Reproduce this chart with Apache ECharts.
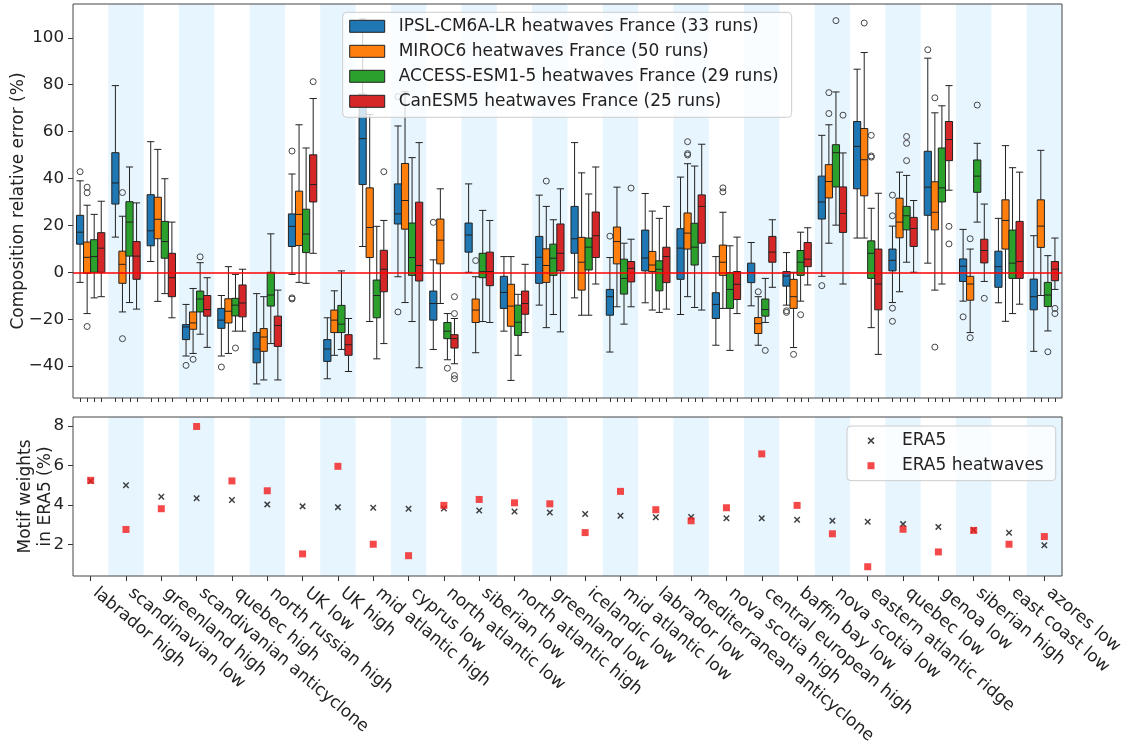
<!DOCTYPE html>
<html><head><meta charset="utf-8">
<script src="https://cdn.jsdelivr.net/npm/echarts@6/dist/echarts.min.js"></script>
<style>html,body{margin:0;padding:0;background:#fff}#c{width:1134px;height:742px}</style>
</head><body><div id="c"></div>
<script>
const categories = ['labrador high','scandinavian low','greenland high','scandivanian anticyclone','quebec high','north russian high','UK low','UK high','mid atlantic high','cyprus low','north atlantic low','siberian low','north atlantic high','greenland low','icelandic low','mid atlantic low','labrador low','mediterranean anticyclone','nova scotia high','central european high','baffin bay low','nova scotia low','eastern atlantic ridge','quebec low','genoa low','siberian high','east coast low','azores low'];
const seriesNames = ['IPSL-CM6A-LR heatwaves France (33 runs)','MIROC6 heatwaves France (50 runs)','ACCESS-ESM1-5 heatwaves France (29 runs)','CanESM5 heatwaves France (25 runs)'];
// [min, Q1, median, Q3, max]
const ipsl = [[-4.3,12,17.1,24.3,39],[15,29.1,38.1,51,79.6],[4.6,11.3,17.7,33.1,55.7],[-35.7,-28.7,-23.3,-22.3,-13.7],[-35.7,-23.9,-20.4,-15.4,-9.9],[-47.6,-38.6,-32.7,-25.7,-9.1],[-0.9,11,19.6,24.9,41.9],[-45.4,-38,-32.7,-28.7,-19.4],[11,37.4,57,76,108],[-1.9,20.6,24.9,37.7,62.4],[-32.9,-20.4,-13.3,-8,5.3],[0,8.6,15.9,21,37.7],[-25.1,-15.4,-8.6,-1.7,6.7],[-14,-4.7,6.4,15.3,32.9],[-10.9,8.1,14.3,28.1,55.3],[-34,-18.3,-10.4,-7.3,6.3],[-13,0.6,6.1,18,33.6],[-18,-3,10.3,18.6,40.6],[-31.1,-19.7,-13.7,-8.7,6.7],[-14.3,-4.4,-0.1,3.9,12.7],[-14,-5.9,-1.6,0.3,8.4],[-1.7,22.7,30,41,58.4],[14.6,35.6,53.7,64.3,86.6],[-12.9,0.6,5.1,9.9,19.7],[3.9,24.3,36.3,51.6,91.3],[-12.3,-3.9,2.6,5.7,18.3],[-13,-6.4,2.4,9,23],[-33.7,-16,-10.4,-2.9,15.6]];
const miroc = [[-17.6,-0.4,6.4,12.9,28.6],[-16.9,-4.7,3.4,9,23.9],[-12.4,14.3,22.6,32,52.4],[-34.6,-24.3,-21.6,-16.9,-6.9],[-34.6,-21.6,-16.6,-11.3,2.4],[-45.9,-33.7,-27.6,-24,-10.4],[-4.3,11.4,24.7,34.6,62.9],[-35.4,-25.7,-20.4,-16.1,-7.9],[-21,6.3,19.1,36,67.3],[-12.9,18.4,30.6,46.4,77],[-13.3,3.6,13.7,22.7,35.6],[-34.3,-21.4,-16.1,-11.4,-1.9],[-46.1,-23,-14.4,-5.1,6.7],[-23.6,-4.3,2.9,10,28.1],[-18.3,-7.6,4.3,14.9,42.4],[-14.7,3.6,13.1,19.3,36.3],[-16.1,0.3,3.1,8.9,26.1],[-10.4,9.9,16.7,25.3,46.3],[-15.4,-1.3,4.3,11.6,25.6],[-31.1,-26.1,-21.9,-19.3,-10.4],[-32.1,-15.4,-10.4,-3,0],[12.4,31.7,38.7,45.9,62.9],[14.6,32.6,48,61.3,93.7],[-8.3,14.7,21.4,31.6,42.7],[-7.6,18.1,25.6,38.6,68],[-25.7,-11.9,-5,-1.7,9.9],[-20.9,9.9,22.1,30.9,54],[-9.9,10.6,19.7,30.9,52]];
const access = [[-10.9,0,6.7,13.9,24.7],[-12.9,6.9,21.4,30.1,44.9],[-9.1,6,13.1,21.7,39.9],[-26.4,-16.9,-11.4,-8,4.1],[-25.1,-18.6,-14,-11.1,-0.9],[-30.4,-14.4,-9.7,0,16.4],[-4.7,8.4,16.3,26.9,53],[-32.9,-25.7,-22.1,-14.1,0.6],[-36.9,-19.4,-9.9,-3.3,19.6],[-21,-1.3,6.3,21,48.9],[-37.3,-28.3,-25.1,-21.4,-17.6],[-21,-2.3,0.3,8.1,26.4],[-35.4,-26.9,-21.3,-14,-9.4],[-18,-1.3,6,12,22.4],[-18.3,1,10.7,14.6,33.4],[-22.1,-9.3,-2.6,5.6,12.4],[-17.1,-7.9,1.3,4.9,23],[-15,3.1,10.7,20.9,45.3],[-33.3,-15.4,-7.3,-0.1,11.3],[-21.4,-18.7,-15.9,-11.4,-2.6],[-12.3,-1.3,4.3,9.3,17.1],[20.1,36.4,51,54.4,76.9],[-23.6,-2.6,8.1,13.4,27.3],[4.3,18.1,24.1,28.1,41.3],[-5,30,36,53,71],[21.4,34.1,41,47.9,55],[-17.6,-2.6,3.9,18,44.6],[-25,-14.6,-9.7,-4.3,7.1]];
const canesm = [[-10.4,0,10.3,16.9,30.3],[-15.7,-3,6.9,13.1,29.6],[-19.4,-10.4,-2.3,8.1,21.4],[-32,-18.7,-15.9,-9.9,-2.3],[-25.1,-19,-13.1,-5.4,1.3],[-45.9,-31.6,-22.7,-18.7,-7.6],[8.1,30,37.4,50.1,74.1],[-42.3,-35.4,-30.9,-26.6,-19.7],[-30.4,-8.3,1.3,9.4,22.1],[-40.7,-3.7,2.9,29.9,55.3],[-39,-32.3,-28.3,-26.6,-19.7],[-21.4,-5.7,0.3,8.6,22.1],[-25.7,-17.9,-13.3,-8,3.4],[-25.4,0.6,8.1,20.6,35.6],[-5,6.3,15.6,25.7,44.9],[-14.7,-4.1,1.7,4.6,14.1],[-15.7,-4.4,6.7,10.7,28.1],[-16.1,12.4,28.1,33,54.6],[-17.6,-11.6,-5.1,0.3,15],[-6.4,4.3,8.6,15.3,22.4],[-5.4,2.4,5.6,12.7,19],[-5,17,25.1,36.4,50.9],[-35,-16,-5,9.9,33.7],[0,11,18.7,23.4,30.6],[35,47.6,56.6,64.3,79.6],[-3.9,4,9.3,14.1,29.1],[-13.6,-2.6,4.6,21.7,42.7],[-7.3,-3.6,1.3,4.6,14.6]];
// outliers [category index, value]
const ipslOut = [[0,42.9],[3,-39.7],[4,-40.4],[6,51.7],[6,-10.9],[6,-11.4],[9,74.9],[9,-16.9],[10,21.3],[15,15.4],[20,-16.4],[20,-17.1],[21,-5.7],[23,32.9],[23,24.1],[23,-15.3],[23,-20.9],[24,94.9],[25,-19]];
const mirocOut = [[0,36.3],[0,33.9],[0,-23.1],[1,34],[1,-28.3],[3,-37.1],[11,5],[13,38.9],[17,55.7],[17,50.6],[17,50],[18,36],[18,34.3],[19,-8.3],[20,-35],[21,76.6],[21,67.7],[22,106.3],[24,74.4],[24,-31.9],[25,14.3],[25,-27.9]];
const accessOut = [[3,6.6],[4,-32.3],[10,-40.9],[19,-33.3],[20,-18.1],[21,107.3],[22,58.4],[22,49.1],[22,49.6],[23,57.9],[23,55],[23,47.6],[25,71.3],[27,-33.9]];
const canesmOut = [[6,81.3],[8,42.9],[10,-10.4],[10,-17.6],[10,-44],[10,-45.4],[15,35.9],[21,67],[24,19.6],[24,12.1],[25,-11.1],[27,-15.4],[27,-17.6]];
const era5 = [5.2,4.99,4.41,4.33,4.24,4.02,3.92,3.88,3.85,3.80,3.81,3.71,3.66,3.61,3.53,3.44,3.37,3.38,3.32,3.32,3.24,3.19,3.14,3.02,2.88,2.72,2.58,1.95];
const era5Heat = [5.24,2.75,3.80,7.97,5.21,4.71,1.51,5.95,2.0,1.42,3.97,4.27,4.10,4.05,2.59,4.68,3.75,3.19,3.85,6.58,3.97,2.53,0.86,2.76,1.61,2.70,2.0,2.39];
const yTicksTop = [-40,-20,0,20,40,60,80,100];
const yTicksBottom = [2,4,6,8];

const colors = ['#1f77b4','#ff7f0e','#2ca02c','#d62728'];
const FONT = 'DejaVu Sans';
const bandFlags = categories.map((c,i)=> i%2===1 ? 1 : '-');
function boxOffset(bw,k){const av=bw*0.8-2;const gap=av/4*0.3;const w=(av-gap*3)/4;return w/2-av/2+k*(gap+w);}
const minusFmt = v => String(v).replace('-', '\u2212');

const boxData = [ipsl, miroc, access, canesm];
const outData = [ipslOut, mirocOut, accessOut, canesmOut];
const series = [];
series.push({type:'bar',name:'bandsTop',xAxisIndex:0,yAxisIndex:1,data:bandFlags,barWidth:'100%',itemStyle:{color:'#e7f5fe'},silent:true,z:1});
series.push({type:'bar',name:'bandsBottom',xAxisIndex:1,yAxisIndex:3,data:bandFlags,barWidth:'100%',itemStyle:{color:'#e7f5fe'},silent:true,z:1});
boxData.forEach((d,k)=>{
  const s = {type:'boxplot',name:seriesNames[k],xAxisIndex:0,yAxisIndex:0,data:d,boxWidth:[7.2,7.2],
    itemStyle:{color:colors[k],borderColor:'#222',borderWidth:1},silent:true,z:3};
  if(k===3){ s.markLine={symbol:'none',silent:true,label:{show:false},data:[{yAxis:0}],lineStyle:{color:'#ff0000',width:1.5,type:'solid'},z:5}; }
  series.push(s);
});
outData.forEach((d,k)=>{
  series.push({type:'custom',name:'out'+k,xAxisIndex:0,yAxisIndex:0,data:d,silent:true,z:4,
    renderItem:function(params,api){const p=api.coord([api.value(0),api.value(1)]);const bw=api.size([1,0])[0];
      return {type:'circle',shape:{cx:p[0]+boxOffset(bw,k),cy:p[1],r:3},style:{fill:'none',stroke:'#444',lineWidth:1}};}});
});
series.push({type:'custom',name:'ticks',xAxisIndex:0,yAxisIndex:0,data:categories.map((c,i)=>[i,0]),silent:true,clip:false,z:4,
  renderItem:function(params,api){const p=api.coord([api.value(0),0]);const bw=api.size([1,0])[0];const yb=params.coordSys.y+params.coordSys.height;
    const ch=[];for(let k=0;k<4;k++){const x=Math.round(p[0]+boxOffset(bw,k))+0.5;ch.push({type:'line',shape:{x1:x,y1:yb,x2:x,y2:yb+4},style:{stroke:'#333',lineWidth:1}});}
    return {type:'group',children:ch};}});
const xPath='path://M0,1.6L1.6,0L5,3.4L8.4,0L10,1.6L6.6,5L10,8.4L8.4,10L5,6.6L1.6,10L0,8.4L3.4,5Z';
const sqPath='path://M0,0L10,0L10,10L0,10Z';
series.push({type:'scatter',name:'ERA5',xAxisIndex:1,yAxisIndex:2,data:era5,symbol:xPath,symbolSize:6.5,itemStyle:{color:'#111'},silent:true,z:3});
series.push({type:'scatter',name:'ERA5 heatwaves',xAxisIndex:1,yAxisIndex:2,data:era5Heat,symbol:sqPath,symbolSize:7,itemStyle:{color:'#f21b1b'},silent:true,z:4});

const option = {
  animation:false,
  textStyle:{fontFamily:FONT},
  grid:[{left:73,top:4,width:989,height:394,containLabel:false,outerBoundsMode:'none',show:true,borderColor:'#444',borderWidth:1,backgroundColor:'transparent',z:10},
        {left:73,top:417,width:989,height:159,containLabel:false,outerBoundsMode:'none',show:true,borderColor:'#444',borderWidth:1,backgroundColor:'transparent',z:10}],
  xAxis:[
    {type:'category',gridIndex:0,data:categories,axisLine:{show:false},axisTick:{show:false},axisLabel:{show:false},splitLine:{show:false}},
    {type:'category',gridIndex:1,data:categories,axisLine:{show:false},axisTick:{show:true,alignWithLabel:true,length:5,lineStyle:{color:'#333'}},
      axisLabel:{interval:0,rotate:-40,fontSize:17,color:'#222',margin:11,padding:[0,0,0,6],fontFamily:FONT},splitLine:{show:false}}
  ],
  yAxis:[
    {type:'value',gridIndex:0,min:-53.6,max:114.4,axisLine:{show:false},splitLine:{show:false},
      axisTick:{show:true,length:5,customValues:yTicksTop,lineStyle:{color:'#333'}},
      axisLabel:{customValues:yTicksTop,formatter:minusFmt,fontSize:16.7,color:'#222',margin:9,fontFamily:FONT},
      name:'Composition relative error (%)',nameLocation:'middle',nameGap:46,nameMoveOverlap:false,nameTextStyle:{fontSize:17,color:'#222',fontFamily:FONT}},
    {type:'value',gridIndex:0,min:0,max:1,show:false},
    {type:'value',gridIndex:1,min:0.39,max:8.45,axisLine:{show:false},splitLine:{show:false},
      axisTick:{show:true,length:5,customValues:yTicksBottom,lineStyle:{color:'#333'}},
      axisLabel:{customValues:yTicksBottom,formatter:minusFmt,fontSize:16.7,color:'#222',margin:9,fontFamily:FONT},
      name:'Motif weights\nin ERA5 (%)',nameLocation:'middle',nameGap:17,nameMoveOverlap:false,nameTextStyle:{fontSize:17,color:'#222',lineHeight:20,fontFamily:FONT}},
    {type:'value',gridIndex:1,min:0,max:1,show:false}
  ],
  legend:[
    {data:seriesNames.map((n,k)=>({name:n,icon:'rect',itemStyle:{color:colors[k],borderColor:'#222',borderWidth:1}})),
      orient:'vertical',left:342.7,top:12.3,itemWidth:35,itemHeight:12,itemGap:5,padding:[4,13,6,6.5],
      backgroundColor:'rgba(255,255,255,0.8)',borderColor:'#ccc',borderWidth:1,borderRadius:4,z:20,selectedMode:false,
      textStyle:{fontFamily:FONT,fontSize:17,color:'#222',lineHeight:20,padding:[0,0,0,9]}},
    {data:[{name:'ERA5',icon:xPath,itemStyle:{color:'#111'}},{name:'ERA5 heatwaves',icon:sqPath,itemStyle:{color:'#f21b1b'}}],
      orient:'vertical',left:847,top:426,itemWidth:7,itemHeight:7,itemGap:5,padding:[4.7,12,5,20.5],
      backgroundColor:'rgba(255,255,255,0.8)',borderColor:'#ccc',borderWidth:1,borderRadius:4,z:20,selectedMode:false,
      textStyle:{fontFamily:FONT,fontSize:17,color:'#222',lineHeight:20,padding:[0,0,0,22.5]}}
  ],
  series:series
};
const chart = echarts.init(document.getElementById('c'),null,{renderer:'canvas'});
chart.setOption(option);
</script></body></html>
